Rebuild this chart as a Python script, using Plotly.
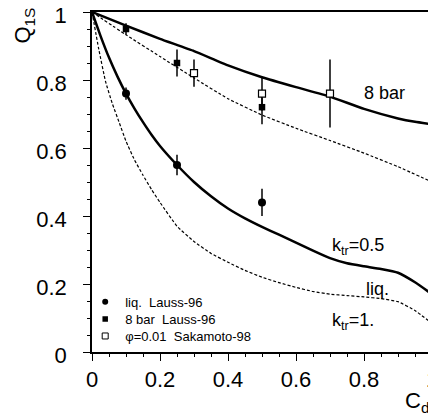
import plotly.graph_objects as go

# ---- data ----
# theory curves
x_8bar = [0, 0.1, 0.2, 0.3, 0.4, 0.5, 0.6, 0.7, 0.8, 0.9, 0.95, 1.0]
y_8bar = [1.0, 0.96, 0.921, 0.885, 0.843, 0.808, 0.779, 0.751, 0.715, 0.687, 0.677, 0.67]

x_8bar_dot = [0, 0.1, 0.2, 0.3, 0.4, 0.5, 0.6, 0.7, 0.8, 0.9, 1.0]
y_8bar_dot = [1.0, 0.933, 0.869, 0.806, 0.745, 0.697, 0.658, 0.622, 0.585, 0.545, 0.50]

x_k05 = [0, 0.025, 0.05, 0.075, 0.1, 0.125, 0.15, 0.175, 0.2, 0.25, 0.3, 0.35, 0.4,
         0.45, 0.5, 0.55, 0.6, 0.65, 0.7, 0.75, 0.8, 0.85, 0.9, 0.95, 1.0]
y_k05 = [1.0, 0.93, 0.866, 0.81, 0.760, 0.716, 0.676, 0.639, 0.606, 0.55, 0.50, 0.458, 0.422,
         0.393, 0.368, 0.345, 0.322, 0.298, 0.276, 0.261, 0.252, 0.244, 0.233, 0.205, 0.17]

x_k1 = [0, 0.02, 0.04, 0.06, 0.08, 0.1, 0.125, 0.15, 0.175, 0.2, 0.25, 0.3, 0.35, 0.4,
        0.45, 0.5, 0.55, 0.6, 0.65, 0.7, 0.75, 0.8, 0.85, 0.9, 0.95, 1.0]
y_k1 = [1.0, 0.89, 0.795, 0.73, 0.675, 0.62, 0.565, 0.52, 0.478, 0.44, 0.37, 0.325, 0.29, 0.264,
        0.24, 0.22, 0.204, 0.19, 0.178, 0.17, 0.166, 0.162, 0.157, 0.148, 0.122, 0.084]

# measurements
x_liq = [0.1, 0.25, 0.5]
y_liq = [0.76, 0.55, 0.44]
e_liq = [0.018, 0.03, 0.04]

x_8b = [0.1, 0.25, 0.5]
y_8b = [0.95, 0.85, 0.72]
e_8b = [0.017, 0.04, 0.05]

x_sak = [0.3, 0.5, 0.7]
y_sak = [0.82, 0.76, 0.76]
e_sak = [0.04, 0.05, 0.1]

tick_vals = [0, 0.2, 0.4, 0.6, 0.8, 1.0]
tick_text = ["0", "0.2", "0.4", "0.6", "0.8", "1"]

legend_names = ["liq.\u00a0 Lauss-96", "8 bar\u00a0 Lauss-96", "\u03c6=0.01\u00a0 Sakamoto-98"]

FONT = "Liberation Sans, Arial, sans-serif"

fig = go.Figure()

# curves
solid = dict(color="black", width=2.5, shape="spline", smoothing=0.4)
dotted = dict(color="black", width=1.2, dash="3px,2px", shape="spline", smoothing=0.4)
fig.add_trace(go.Scatter(x=x_8bar, y=y_8bar, mode="lines", line=solid, showlegend=False))
fig.add_trace(go.Scatter(x=x_8bar_dot, y=y_8bar_dot, mode="lines", line=dotted, showlegend=False))
fig.add_trace(go.Scatter(x=x_k05, y=y_k05, mode="lines", line=solid, showlegend=False))
fig.add_trace(go.Scatter(x=x_k1, y=y_k1, mode="lines", line=dotted, showlegend=False))

err_style = dict(type="data", visible=True, color="black", thickness=1.5, width=0)

fig.add_trace(go.Scatter(x=x_liq, y=y_liq, mode="markers", error_y=dict(array=e_liq, **err_style),
                         marker=dict(symbol="circle", size=8, color="black"), showlegend=False))
fig.add_trace(go.Scatter(x=x_8b, y=y_8b, mode="markers", error_y=dict(array=e_8b, **err_style),
                         marker=dict(symbol="square", size=6.5, color="black"), showlegend=False))
fig.add_trace(go.Scatter(x=x_sak, y=y_sak, mode="markers", error_y=dict(array=e_sak, **err_style),
                         marker=dict(symbol="square", size=7, color="white", line=dict(color="black", width=1.2)), showlegend=False))

# legend-only entries, one legend each for exact row spacing
fig.add_trace(go.Scatter(x=[None], y=[None], mode="markers", name=legend_names[0], legend="legend",
                         marker=dict(symbol="circle", size=6, color="black")))
fig.add_trace(go.Scatter(x=[None], y=[None], mode="markers", name=legend_names[1], legend="legend2",
                         marker=dict(symbol="square", size=5.5, color="black")))
fig.add_trace(go.Scatter(x=[None], y=[None], mode="markers", name=legend_names[2], legend="legend3",
                         marker=dict(symbol="square", size=6, color="white", line=dict(color="black", width=1))))

axis_common = dict(
    range=[0, 1], automargin=False,
    showgrid=False, zeroline=False,
    showline=True, linecolor="black", linewidth=1.5, mirror=True,
    ticks="outside", ticklen=7, tickwidth=1, tickcolor="black",
    tickfont=dict(family=FONT, size=22, color="black"),
    tickvals=tick_vals, ticktext=tick_text, ticklabeloverflow="allow",
    minor=dict(tickvals=[i * 0.05 for i in range(21)], ticks="outside", ticklen=3, tickwidth=1, tickcolor="black", showgrid=False),
)

fig.update_xaxes(**axis_common)
fig.update_yaxes(**axis_common, ticklabelstandoff=12, ticklabelshift=3)

txt = dict(family=FONT, size=18, color="black")
ann = [
    dict(text="8 bar", x=0.861, y=0.762, xref="x", yref="y", showarrow=False, font=txt),
    dict(text="k<sub>tr</sub>=0.5", x=0.70, y=0.31, xref="x", yref="y", xanchor="left", showarrow=False, font=txt),
    dict(text="liq.", x=0.80, y=0.184, xref="x", yref="y", xanchor="left", showarrow=False, font=txt),
    dict(text="k<sub>tr</sub>=1.", x=0.70, y=0.09, xref="x", yref="y", xanchor="left", showarrow=False, font=txt),
    dict(text="Q<sub>1S</sub>", x=-0.2, y=0.96, xref="paper", yref="paper", textangle=-90, showarrow=False,
         xanchor="center", yanchor="middle", font=dict(family=FONT, size=22, color="black")),
    dict(text="C<sub>d</sub>", x=0.997, y=-0.147, xref="paper", yref="paper", showarrow=False,
         xanchor="right", yanchor="middle", font=dict(family=FONT, size=22, color="black")),
]

leg = dict(x=-0.02, xanchor="left", yanchor="middle", bgcolor="rgba(0,0,0,0)",
           font=dict(family=FONT, size=13, color="black"), itemwidth=30)

# page body has an 8px margin, so the figure is 8px smaller than the window
fig.update_layout(
    width=428, height=410,
    margin=dict(l=84, r=4, t=4, b=66, autoexpand=False),
    plot_bgcolor="white", paper_bgcolor="white",
    font=dict(family=FONT, color="black"),
    annotations=ann,
    legend=dict(y=0.148, **leg),
    legend2=dict(y=0.097, **leg),
    legend3=dict(y=0.047, **leg),
    showlegend=True,
)

fig.write_html("out.html")
